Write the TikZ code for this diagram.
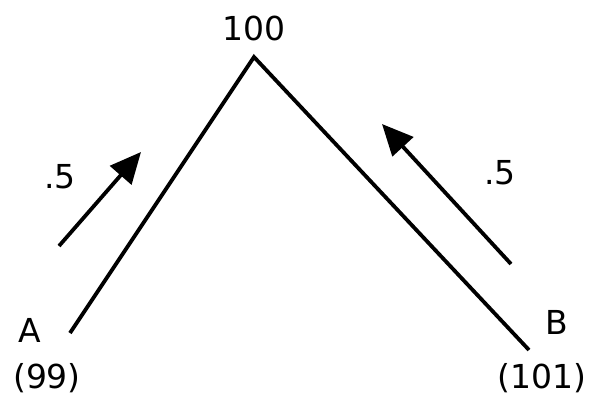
\documentclass[tikz,border=0pt]{standalone}
\usepackage{fontspec}
\setmainfont{DejaVu Sans}
\usetikzlibrary{arrows.meta}
\begin{document}
\begin{tikzpicture}[x=1pt,y=1pt,
  lbl/.style={font=\fontsize{33}{37}\selectfont, inner sep=0pt, anchor=center},
  edge/.style={line width=3.8pt, line join=miter},
  flow/.style={line width=3.8pt, -{Triangle[length=31pt,width=28pt]}}]
\useasboundingbox (0,0) rectangle (589,397);
\coordinate (top) at (254,340);
\coordinate (aend) at (70,64);
\coordinate (bend) at (529,47);
\coordinate (t1) at (59,151);
\coordinate (h1) at (141,245);
\coordinate (t2) at (511,133);
\coordinate (h2) at (382,273);
\draw[edge] (aend) -- (top) -- (bend);
\draw[flow] (t1) -- (h1);
\draw[flow] (t2) -- (h2);
\node[lbl] (n100) at (254,369) {100};
\node[lbl] (p1) at (60,220) {.5};
\node[lbl] (p2) at (500,224) {.5};
\node[lbl] (A) at (30,67) {A};
\node[lbl] (B) at (557,75) {B};
\node[lbl] (v99) at (47,19) {(99)};
\node[lbl] (v101) at (542,19) {(101)};
\end{tikzpicture}
\end{document}
